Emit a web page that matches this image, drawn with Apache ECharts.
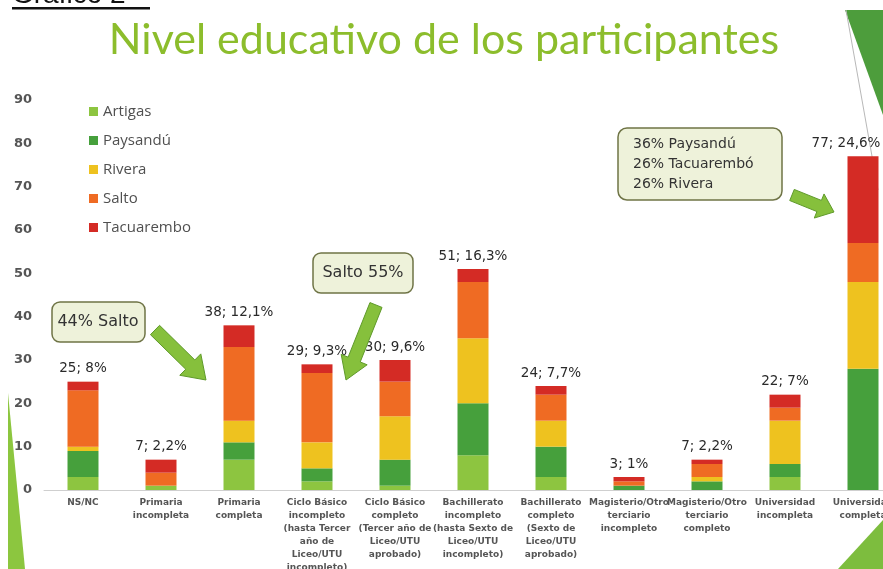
<!DOCTYPE html>
<html>
<head>
<meta charset="utf-8">
<script src="https://cdn.jsdelivr.net/npm/echarts@6/dist/echarts.min.js"></script>
<style>
html,body{margin:0;padding:0;background:#fff;}
#c{width:883px;height:569px;}
</style>
</head>
<body>
<div id="c"></div>
<script>
var categories = [
  "NS/NC",
  "Primaria\nincompleta",
  "Primaria\ncompleta",
  "Ciclo Básico\nincompleto\n(hasta Tercer\naño de\nLiceo/UTU\nincompleto)",
  "Ciclo Básico\ncompleto\n(Tercer año de\nLiceo/UTU\naprobado)",
  "Bachillerato\nincompleto\n(hasta Sexto de\nLiceo/UTU\nincompleto)",
  "Bachillerato\ncompleto\n(Sexto de\nLiceo/UTU\naprobado)",
  "Magisterio/Otro\nterciario\nincompleto",
  "Magisterio/Otro\nterciario\ncompleto",
  "Universidad\nincompleta",
  "Universidad\ncompleta"
];
var artigas    = [3, 1, 7, 2, 1, 8, 3, 0, 0, 3, 0];
var paysandu   = [6, 0, 4, 3, 6, 12, 7, 1, 2, 3, 28];
var rivera     = [1, 0, 5, 6, 10, 15, 6, 0, 1, 10, 20];
var salto      = [13, 3, 17, 16, 8, 13, 6, 1, 3, 3, 9];
var tacuarembo = [2, 3, 5, 2, 5, 3, 2, 1, 1, 3, 20];
var totalLabels = ["25; 8%","7; 2,2%","38; 12,1%","29; 9,3%","30; 9,6%","51; 16,3%","24; 7,7%","3; 1%","7; 2,2%","22; 7%","77; 24,6%"];
var seriesNames = ["Artigas","Paysandú","Rivera","Salto","Tacuarembo"];
var yTicks = [0,10,20,30,40,50,60,70,80,90];

var colors = ["#8dc540","#46a03c","#eec21f","#ef6b23","#d42b25"];
var seriesData = [artigas, paysandu, rivera, salto, tacuarembo];

function arrow(x1,y1,x2,y2,sw,hw,hl){
  var dx=x2-x1, dy=y2-y1, L=Math.sqrt(dx*dx+dy*dy);
  var ux=dx/L, uy=dy/L, px=-uy, py=ux;
  var bx=x2-ux*hl, by=y2-uy*hl;
  return [
    [x1+px*sw/2, y1+py*sw/2],
    [bx+px*sw/2, by+py*sw/2],
    [bx+px*hw/2, by+py*hw/2],
    [x2, y2],
    [bx-px*hw/2, by-py*hw/2],
    [bx-px*sw/2, by-py*sw/2],
    [x1-px*sw/2, y1-py*sw/2]
  ];
}

var chart = echarts.init(document.getElementById('c'));
var lastIdx = categories.length - 1;
var series = seriesNames.map(function(n,i){
  var isTop = (i === seriesNames.length-1);
  var s = {
    name: n, type: 'bar', stack: 'total', barWidth: 31,
    itemStyle: {color: colors[i]},
    data: seriesData[i].map(function(v, k){
      if (isTop && k === lastIdx) return {value: v, label: {offset: [-17, 0]}};
      return v;
    })
  };
  if (isTop) {
    s.label = {
      show: true, position: 'top', distance: 6,
      fontFamily: 'DejaVu Sans', fontSize: 13.5, color: '#2a2a2a',
      formatter: function(p){ return totalLabels[p.dataIndex]; }
    };
  }
  return s;
});

var calloutStyle = {fill:'#eef2da', stroke:'#6f7446', lineWidth:1.5};
var arrowStyle = {fill:'#86c03c', stroke:'#5f9a2a', lineWidth:1};

chart.setOption({
  animation: false,
  backgroundColor: '#ffffff',
  grid: {left: 44, right: -19, top: 100, bottom: 79, containLabel: false, outerBoundsMode: 'none'},
  legend: {
    orient: 'vertical', left: 84, top: 99, itemWidth: 9, itemHeight: 9, itemGap: 14,
    icon: 'rect',
    textStyle: {fontFamily: 'Open Sans', fontSize: 15, color: '#505050'},
    data: seriesNames
  },
  xAxis: {
    type: 'category', data: categories,
    axisLine: {lineStyle: {color: '#cfcfcf'}},
    axisTick: {show: false},
    axisLabel: {interval: 0, fontFamily: 'DejaVu Sans', fontSize: 9, fontWeight: 'bold', color: '#555', lineHeight: 13, margin: 6}
  },
  yAxis: {
    type: 'value', min: 0, max: 90, interval: 10,
    axisLine: {show: false}, axisTick: {show: false}, splitLine: {show: false},
    axisLabel: {fontFamily: 'DejaVu Sans', fontSize: 13, fontWeight: 'bold', color: '#555', margin: 12}
  },
  series: series,
  graphic: [
    {type:'polygon', shape:{points:[[8,393],[25,569],[8,569]]}, style:{fill:'#8cc63f'}, z:0},
    {type:'polygon', shape:{points:[[845,10],[883,10],[883,115]]}, style:{fill:'#4d9d3c'}, z:0},
    {type:'line', shape:{x1:846,y1:10,x2:878,y2:190}, style:{stroke:'#b8b8b8', lineWidth:1}, z:0},
    {type:'polygon', shape:{points:[[838,569],[883,520],[883,569]]}, style:{fill:'#7dbd3e'}, z:0},
    {type:'text', x: 12, y: -5, style:{text:'Gráfico 2', font:'28px "Liberation Sans"', fill:'#111', verticalAlign:'middle', align:'left'}},
    {type:'rect', shape:{x:12, y:7, width:138, height:2.5}, style:{fill:'#111'}},
    {type:'text', x: 444, y: 40, style:{text:'Nivel educativo de los participantes', font:'43px Lato', fill:'#8cbd2c', align:'center', verticalAlign:'middle'}},
    {type:'rect', shape:{x:52,y:302,width:93,height:40,r:8}, style:calloutStyle, z:10},
    {type:'text', x:98, y:322, style:{text:'44% Salto', font:'16px "DejaVu Sans"', fill:'#333', align:'center', verticalAlign:'middle'}, z:11},
    {type:'rect', shape:{x:313,y:253,width:100,height:40,r:8}, style:calloutStyle, z:10},
    {type:'text', x:363, y:273, style:{text:'Salto 55%', font:'16px "DejaVu Sans"', fill:'#333', align:'center', verticalAlign:'middle'}, z:11},
    {type:'rect', shape:{x:618,y:128,width:164,height:72,r:9}, style:calloutStyle, z:10},
    {type:'text', x:633, y:164, style:{text:'36% Paysandú\n26% Tacuarembó\n26% Rivera', font:'14px "DejaVu Sans"', lineHeight:20, fill:'#333', align:'left', verticalAlign:'middle'}, z:11},
    {type:'polygon', shape:{points: arrow(155,330,206,380,13,30,22)}, style:arrowStyle, z:10},
    {type:'polygon', shape:{points: arrow(376,305,346,380,13,28,22)}, style:arrowStyle, z:10},
    {type:'polygon', shape:{points: arrow(792,195,834,212,12,26,16)}, style:arrowStyle, z:10}
  ]
});
</script>
</body>
</html>
